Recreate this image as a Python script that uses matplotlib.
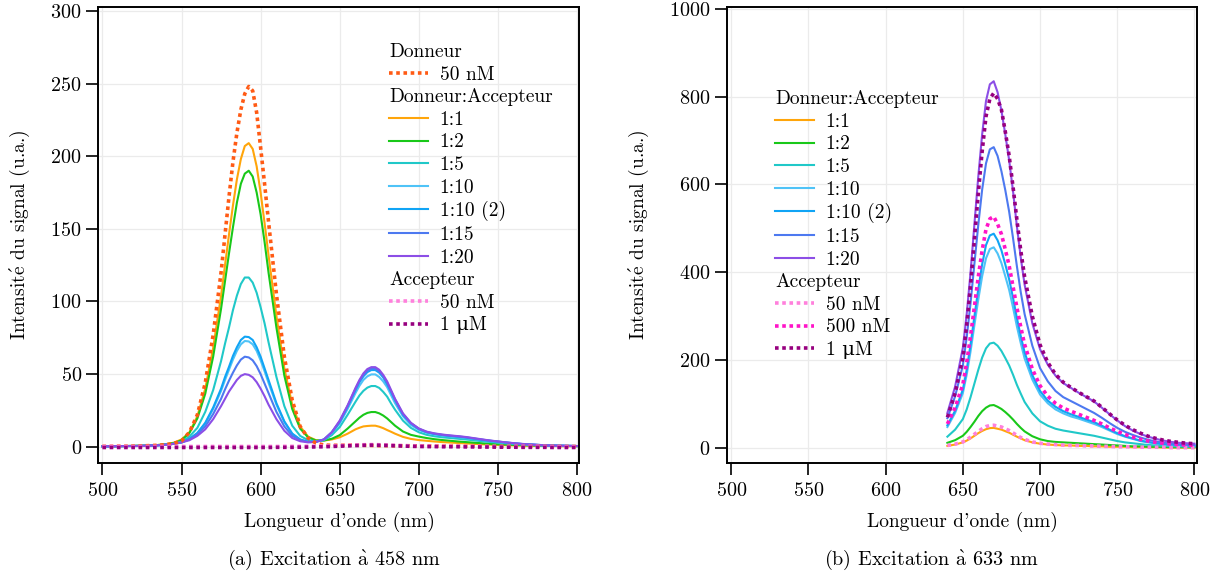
import matplotlib
matplotlib.use("Agg")
from matplotlib import pyplot as plt
from matplotlib.lines import Line2D

plt.rcParams['font.family'] = ['cmr10', 'DejaVu Serif']
plt.rcParams['mathtext.fontset'] = 'cm'
plt.rcParams['axes.formatter.use_mathtext'] = True

# wavelength grids (nm), finer around the peaks
wl_458 = (list(range(500, 576, 5))
          + [577.5, 580, 582.5, 585, 587.5, 590, 592.5, 595, 597.5, 600, 602.5, 605]
          + list(range(610, 656, 5))
          + [657.5, 660, 662.5, 665, 667.5, 670, 672.5, 675, 677.5, 680, 682.5]
          + list(range(685, 801, 5)))
wl_633 = ([640, 645, 650]
          + [652.5, 655, 657.5, 660, 662.5, 665, 667.5, 670, 672.5, 675, 677.5, 680, 682.5, 685, 687.5, 690]
          + list(range(695, 801, 5)))

# --- excitation 458 nm ---
donor_50nM = [0.3, 0.3, 0.4, 0.4, 0.5, 0.6, 0.8, 1.0, 1.4, 2.2, 4, 10, 22, 44, 77, 120,
              146, 172, 196, 216, 232, 243, 248, 245, 230, 206, 181, 155,
              105, 62, 32, 14, 6, 2.5, 1.2, 1.0, 1.0, 1.1,
              1.1, 1.1, 1.0, 1.0, 0.9, 0.9, 0.8, 0.8, 0.8, 0.8, 0.7,
              0.7, 0.7, 0.7, 0.6, 0.6, 0.5, 0.5, 0.5, 0.4, 0.4, 0.4, 0.3,
              0.3, 0.3, 0.3, 0.3, 0.2, 0.2, 0.2, 0.2, 0.2, 0.2, 0.2, 0.2]
a_1_1 = [0.3, 0.3, 0.4, 0.5, 0.6, 0.7, 0.9, 1.2, 1.8, 2.8, 5, 10, 21, 40, 68, 104,
         125, 146, 166, 184, 198, 207, 209, 205, 193, 175, 154, 132,
         90, 54, 29, 14, 7, 4.5, 4.3, 5, 6.5, 9,
         10.5, 12, 13.1, 14, 14.3, 14.5, 14.5, 13.8, 12.8, 11.5, 10.3,
         9, 6.8, 5.4, 4.6, 4.1, 3.6, 3.2, 2.9, 2.6, 2.3, 2.0, 1.7,
         1.5, 1.3, 1.1, 0.9, 0.8, 0.7, 0.6, 0.5, 0.5, 0.4, 0.4, 0.4]
a_1_2 = [0.3, 0.3, 0.4, 0.5, 0.6, 0.7, 0.9, 1.2, 1.7, 2.5, 4.5, 9.5, 19.5, 36.5, 62, 95,
         114, 133, 151, 168, 181, 188, 190, 186, 175, 160, 141, 120,
         82, 49, 26, 12.5, 6.5, 4.3, 4.3, 5.5, 8, 12.5,
         15, 17.5, 20, 22, 23.3, 23.9, 23.9, 23, 21.5, 19.5, 17,
         14.5, 10.5, 8.2, 7, 6, 5.2, 4.6, 4.1, 3.6, 3.2, 2.8, 2.4,
         2.0, 1.7, 1.5, 1.3, 1.1, 0.9, 0.8, 0.7, 0.6, 0.5, 0.5, 0.4]
a_1_5 = [0.3, 0.3, 0.4, 0.5, 0.6, 0.7, 0.9, 1.1, 1.5, 2, 3.5, 7, 13, 24, 39, 59,
         71, 82, 94, 104, 112, 116.5, 116.5, 113, 106, 96, 85, 72,
         48, 28, 14.5, 7.5, 4.5, 3.8, 4.5, 8, 13.5, 22,
         26.5, 31, 35.3, 38.5, 40.7, 41.8, 41.8, 40.5, 37.8, 34.5, 29.8,
         25.5, 18, 13, 10, 8.2, 7.2, 6.5, 6, 5.5, 5, 4.4, 3.8,
         3.3, 2.8, 2.3, 1.9, 1.6, 1.3, 1.1, 0.9, 0.8, 0.7, 0.6, 0.5]
a_1_10 = [0.3, 0.3, 0.4, 0.5, 0.5, 0.6, 0.8, 1.0, 1.4, 2, 3, 5.3, 9.2, 16, 26, 38.5,
          46, 53, 60, 66, 70.5, 72.8, 72.5, 70.5, 66, 59.5, 52, 44,
          29, 17, 9, 5, 3.4, 3.5, 4.8, 9.3, 16, 26,
          31.5, 37, 42, 46, 48.5, 49.8, 49.8, 48, 45, 41, 35.5,
          30, 21, 15, 11.6, 9.6, 8.5, 7.7, 7.1, 6.6, 6.0, 5.3, 4.6,
          4.0, 3.4, 2.8, 2.3, 1.9, 1.5, 1.2, 1.0, 0.8, 0.7, 0.6, 0.5]
a_1_10b = [0.3, 0.3, 0.4, 0.5, 0.5, 0.6, 0.8, 1.0, 1.4, 2, 3, 5.5, 9.5, 16.5, 27, 40,
           48, 55, 62.5, 68.5, 73.5, 75.8, 75.5, 73.5, 68.5, 62, 54, 46,
           30, 17.5, 9, 5, 3.4, 3.5, 5, 9.8, 17, 27.5,
           33.4, 39, 44.5, 48.5, 51.4, 52.8, 52.8, 51, 47.7, 43, 37.6,
           32, 22, 16, 12.2, 10, 8.8, 8.0, 7.4, 6.9, 6.3, 5.5, 4.8,
           4.1, 3.5, 2.9, 2.4, 1.9, 1.6, 1.3, 1.0, 0.8, 0.7, 0.6, 0.5]
a_1_15 = [0.3, 0.3, 0.4, 0.5, 0.5, 0.6, 0.8, 1.0, 1.4, 2, 3, 5, 8.5, 14, 22.5, 33,
          39.5, 45.5, 51, 56, 60, 62, 61.5, 59.5, 55.5, 50, 43.5, 37,
          24, 14, 7.5, 4.5, 3.3, 3.5, 5, 10, 17.5, 28,
          34, 40, 45.4, 49.5, 52.4, 53.8, 53.8, 52, 48.6, 44, 38.3,
          32.5, 22.5, 16.3, 12.4, 10.2, 9, 8.2, 7.6, 7.1, 6.5, 5.7, 4.9,
          4.2, 3.6, 3.0, 2.4, 1.9, 1.6, 1.3, 1.0, 0.8, 0.7, 0.6, 0.5]
a_1_20 = [0.3, 0.3, 0.4, 0.5, 0.5, 0.6, 0.8, 1.0, 1.4, 2, 3, 4.5, 7.5, 12, 19, 28,
          33, 38, 42, 46, 48.8, 50, 49.5, 47.8, 44.5, 40, 34.8, 29,
          19, 11, 6, 3.8, 3.0, 3.3, 5, 10, 18, 28.5,
          34.5, 40.5, 46, 50.5, 53.5, 54.8, 54.8, 53, 49.5, 45, 39,
          33, 23, 16.5, 12.6, 10.4, 9.2, 8.4, 7.8, 7.3, 6.7, 5.9, 5.1,
          4.3, 3.7, 3.0, 2.5, 2.0, 1.6, 1.3, 1.0, 0.8, 0.7, 0.6, 0.5]
acc_50nM = [0.2, 0.2, 0.2, 0.2, 0.2, 0.2, 0.2, 0.2, 0.2, 0.2, 0.2, 0.2, 0.2, 0.2, 0.2, 0.2,
            0.2, 0.2, 0.2, 0.2, 0.2, 0.2, 0.2, 0.2, 0.2, 0.2, 0.2, 0.2,
            0.2, 0.3, 0.3, 0.3, 0.4, 0.4, 0.5, 0.6, 0.8, 1.0,
            1.1, 1.2, 1.3, 1.4, 1.45, 1.5, 1.5, 1.4, 1.3, 1.2, 1.1,
            1.0, 0.8, 0.6, 0.5, 0.5, 0.4, 0.4, 0.4, 0.4, 0.3, 0.3, 0.3,
            0.3, 0.2, 0.2, 0.2, 0.2, 0.2, 0.2, 0.1, 0.1, 0.1, 0.1, 0.1]
acc_1uM = [-0.5, -0.5, -0.5, -0.5, -0.5, -0.5, -0.5, -0.5, -0.5, -0.5, -0.5, -0.5, -0.5, -0.5, -0.5, -0.5,
           -0.5, -0.5, -0.5, -0.5, -0.5, -0.5, -0.5, -0.5, -0.5, -0.5, -0.5, -0.5,
           -0.4, -0.4, -0.4, -0.3, -0.2, -0.1, 0, 0.2, 0.4, 0.6,
           0.7, 0.8, 0.9, 1.0, 1.05, 1.1, 1.05, 1.0, 0.95, 0.9, 0.8,
           0.7, 0.5, 0.3, 0.2, 0.1, 0.1, 0, 0, 0, -0.1, -0.1, -0.2,
           -0.2, -0.3, -0.3, -0.3, -0.4, -0.4, -0.4, -0.4, -0.5, -0.5, -0.5, -0.5]

# --- excitation 633 nm ---
b_1_1 = [5, 8, 13,
         17, 22, 28, 34, 39, 43, 45.5, 46, 44, 42, 38.5, 35, 30.5, 26, 22, 18,
         13, 10, 8, 7, 6, 6, 5, 5, 4, 4, 3, 3, 3, 2, 2, 2, 2, 1, 1, 1, 1, 1]
b_1_2 = [12, 18, 28,
         37, 48, 60, 73, 84, 92, 97, 98, 94, 89, 82, 74, 65, 55, 46, 38,
         27, 20, 16, 14, 13, 12, 11, 10, 9, 8, 7, 6, 5, 4, 4, 3, 3, 3, 2, 2, 2, 2]
b_1_5 = [26, 42, 66,
         88, 116, 147, 178, 206, 227, 238, 240, 233, 221, 205, 188, 167, 144, 124, 105,
         79, 61, 51, 44, 40, 37, 34, 31, 28, 24, 20, 16, 13, 11, 9, 7, 6, 5, 4, 4, 3, 3]
b_1_10 = [48, 80, 125,
          167, 220, 280, 338, 391, 432, 453, 457, 443, 421, 391, 360, 320, 277, 239, 204,
          156, 122, 102, 88, 79, 72, 67, 61, 55, 48, 40, 32, 26, 21, 16, 13, 11, 9, 7, 6, 5, 5]
b_1_10b = [52, 85, 133,
           178, 236, 300, 362, 418, 462, 484, 488, 473, 450, 418, 384, 342, 296, 255, 218,
           166, 130, 108, 94, 84, 77, 71, 65, 59, 51, 42, 34, 27, 22, 17, 14, 11, 9, 8, 7, 6, 5]
b_1_15 = [68, 118, 188,
          252, 330, 420, 508, 588, 648, 680, 685, 665, 630, 587, 538, 478, 414, 355, 305,
          233, 182, 152, 130, 116, 107, 98, 89, 80, 69, 57, 46, 37, 30, 24, 19, 15, 12, 10, 9, 8, 7]
b_1_20 = [80, 140, 228,
          305, 400, 510, 618, 714, 790, 828, 835, 810, 768, 714, 655, 585, 505, 434, 372,
          284, 225, 190, 165, 148, 137, 126, 116, 106, 92, 77, 63, 50, 40, 32, 26, 21, 17, 14, 12, 11, 10]
b_acc_50nM = [6, 9, 14,
              19, 25, 31.5, 38, 44, 49, 51.5, 52, 50, 48, 44, 40, 34.5, 29, 24, 20,
              14, 11, 9, 8, 7, 6, 6, 5, 5, 4, 4, 3, 3, 3, 2, 2, 2, 2, 1, 1, 1, 1]
b_acc_500nM = [55, 92, 145,
               195, 255, 322, 390, 450, 498, 522, 527, 510, 487, 452, 415, 368, 320, 276, 236,
               180, 142, 118, 102, 91, 84, 77, 70, 63, 55, 46, 38, 31, 25, 20, 16, 13, 11, 9, 8, 7, 6]
b_acc_1uM = [70, 125, 205,
             280, 370, 475, 580, 675, 755, 795, 808, 795, 770, 720, 665, 595, 520, 450, 390,
             300, 235, 195, 168, 150, 138, 127, 117, 107, 93, 78, 64, 52, 42, 34, 27, 22, 18, 15, 13, 11, 10]

ratio_labels = ["1:1", "1:2", "1:5", "1:10", "1:10 (2)", "1:15", "1:20"]
ratio_colors = ["#ffa50a", "#19c819", "#20c8c8", "#4fc3f7", "#10a4f5", "#4d79f0", "#8c4ee6"]

FS = 14
HEADERS = ["Donneur", "Donneur:Accepteur", "Accepteur"]


def header(label):
    return Line2D([], [], linestyle='none', label=label)


def style_axes(ax, ymax, ystep, ylim):
    ax.set_xlim(497.5, 801.6)
    ax.set_ylim(*ylim)
    ax.set_xticks(range(500, 801, 50))
    ax.set_yticks(range(0, ymax + 1, ystep))
    ax.grid(True, color="#ebebeb", linewidth=0.9)
    ax.set_axisbelow(True)
    for s in ax.spines.values():
        s.set_linewidth(1.4)
    ax.tick_params(direction='out', length=8.5, width=1.2, labelsize=14.5)
    ax.tick_params(axis='x', pad=5)
    ax.tick_params(axis='y', pad=3.5)
    ax.set_xlabel("Longueur d'onde (nm)", fontsize=FS, labelpad=9)
    ax.set_ylabel("Intensit$\\acute{\\mathrm{e}}$ du signal (u.a.)", fontsize=FS, labelpad=13)


def make_legend(ax, handles, anchor):
    leg = ax.legend(handles=handles, loc='upper left', bbox_to_anchor=anchor,
                    frameon=False, fontsize=FS, handlelength=2.0, handletextpad=0.6,
                    labelspacing=0.24, borderpad=0, borderaxespad=0)
    # section titles: drop the handle so the text starts at the line column
    for col in leg._legend_handle_box.get_children():
        for row in col.get_children():
            area, txt = row.get_children()
            if txt.get_text() in HEADERS:
                row._children = [txt]
    return leg


def main() -> None:
    fig = plt.figure(figsize=(12.22, 5.79), dpi=100)
    ax1 = fig.add_axes([0.0806, 0.2003, 0.3936, 0.7876])
    ax2 = fig.add_axes([0.5952, 0.2003, 0.3843, 0.7876])

    lw = 1.5
    dlw = 2.6
    dots = (0, (1, 1))

    # (a) 458 nm
    series_a = [a_1_1, a_1_2, a_1_5, a_1_10, a_1_10b, a_1_15, a_1_20]
    hs = []
    for y, c, l in zip(series_a, ratio_colors, ratio_labels):
        h, = ax1.plot(wl_458, y, color=c, lw=lw, label=l)
        hs.append(h)
    hd, = ax1.plot(wl_458, donor_50nM, color="#ff5a14", lw=dlw, linestyle=dots, label="50 nM")
    ha1, = ax1.plot(wl_458, acc_50nM, color="#ff80dc", lw=dlw, linestyle=dots, label="50 nM")
    ha2, = ax1.plot(wl_458, acc_1uM, color="#97007f", lw=dlw, linestyle=dots, label="1 \u03bcM")
    style_axes(ax1, 300, 50, (-11.2, 302.7))
    make_legend(ax1, [header("Donneur"), hd, header("Donneur:Accepteur")] + hs
                + [header("Accepteur"), ha1, ha2], (0.604, 0.921))

    # (b) 633 nm
    series_b = [b_1_1, b_1_2, b_1_5, b_1_10, b_1_10b, b_1_15, b_1_20]
    hs = []
    for y, c, l in zip(series_b, ratio_colors, ratio_labels):
        h, = ax2.plot(wl_633, y, color=c, lw=lw, label=l)
        hs.append(h)
    hb1, = ax2.plot(wl_633, b_acc_50nM, color="#ff80dc", lw=dlw, linestyle=dots, label="50 nM")
    hb2, = ax2.plot(wl_633, b_acc_500nM, color="#ff14c8", lw=dlw, linestyle=dots, label="500 nM")
    hb3, = ax2.plot(wl_633, b_acc_1uM, color="#97007f", lw=dlw, linestyle=dots, label="1 \u03bcM")
    style_axes(ax2, 1000, 200, (-34, 1004))
    make_legend(ax2, [header("Donneur:Accepteur")] + hs
                + [header("Accepteur"), hb1, hb2, hb3], (0.1016, 0.8176))

    fig.text(334 / 1222, 1 - 560 / 579, "(a) Excitation $\\grave{\\mathrm{a}}$ 458 nm",
             fontsize=14.5, ha='center', va='center')
    fig.text(931 / 1222, 1 - 560 / 579, "(b) Excitation $\\grave{\\mathrm{a}}$ 633 nm",
             fontsize=14.5, ha='center', va='center')

    fig.savefig("out.png", dpi=100)


if __name__ == "__main__":
    main()
